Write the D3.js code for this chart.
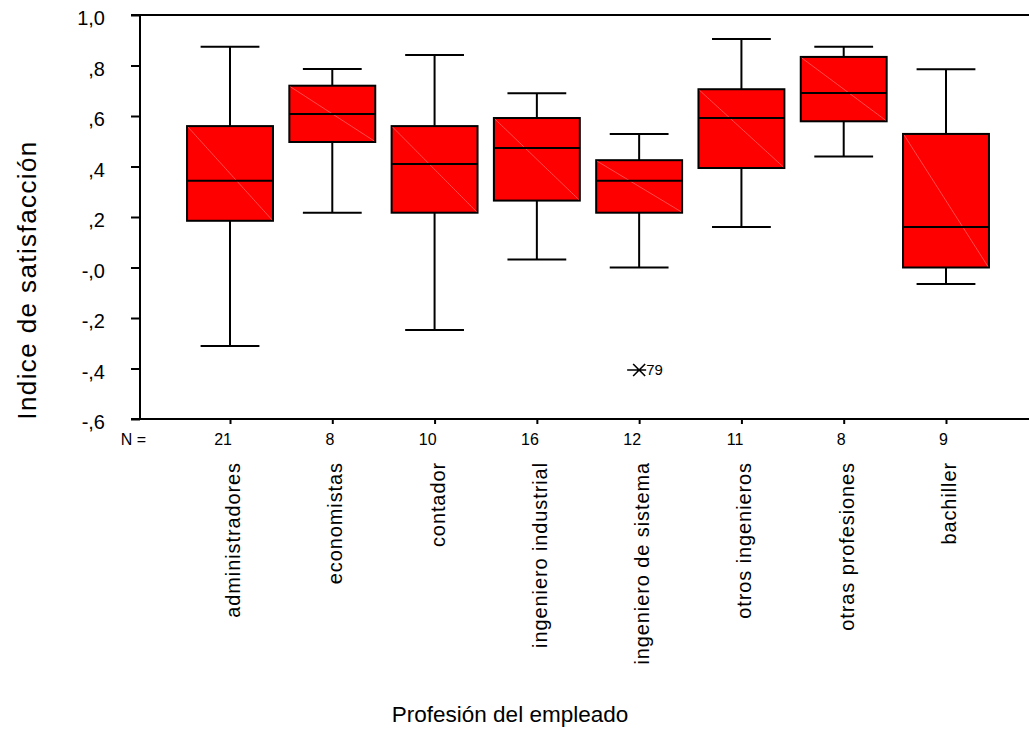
<!DOCTYPE html>
<html>
<head>
<meta charset="utf-8">
<script src="https://cdn.jsdelivr.net/npm/d3@7"></script>
<style>
  html, body { margin: 0; padding: 0; background: #fff; }
  svg { display: block; font-family: "Liberation Sans", Arial, sans-serif; }
</style>
</head>
<body>
<svg id="chart" width="1029" height="736"></svg>
<script>
// Satisfaction index by profession: box plot summaries
const categories = [
  "administradores", "economistas", "contador", "ingeniero industrial",
  "ingeniero de sistema", "otros ingenieros", "otras profesiones", "bachiller"
];
const nCounts     = [21, 8, 10, 16, 12, 11, 8, 9];
const whiskerHigh = [0.874, 0.786, 0.842, 0.690, 0.529, 0.905, 0.874, 0.785];
const q3          = [0.560, 0.720, 0.560, 0.592, 0.425, 0.706, 0.834, 0.529];
const medians     = [0.344, 0.608, 0.410, 0.473, 0.344, 0.592, 0.691, 0.160];
const q1          = [0.185, 0.497, 0.217, 0.265, 0.217, 0.394, 0.579, 0.000];
const whiskerLow  = [-0.311, 0.217, -0.248, 0.032, 0.000, 0.160, 0.440, -0.065];
const outliers    = [{ category: "ingeniero de sistema", value: -0.406, label: "79" }];
const yTickValues = [1.0, 0.8, 0.6, 0.4, 0.2, 0.0, -0.2, -0.4, -0.6];
const yTickLabels = ["1,0", ",8", ",6", ",4", ",2", "-,0", "-,2", "-,4", "-,6"];

const svg = d3.select("#chart");
const plotLeft = 140, plotRight = 1036, plotTop = 15, plotBottom = 419;

const x = d3.scalePoint().domain(categories).range([plotLeft, plotRight]).padding(0.88);
const y = d3.scaleLinear().domain([-0.6, 1.0]).range([plotBottom, plotTop]);
const step = x.step();
const boxW = step * 0.84;
const capW = step * 0.575;

const rows = categories.map((c, i) => ({
  c, n: nCounts[i], hi: whiskerHigh[i], q3: q3[i], med: medians[i], q1: q1[i], lo: whiskerLow[i]
}));

// Frame lines: top border and baseline
svg.append("line").attr("x1", plotLeft - 9).attr("x2", 1029).attr("y1", plotTop).attr("y2", plotTop)
  .attr("stroke", "#000").attr("stroke-width", 2);
svg.append("line").attr("x1", plotLeft - 9).attr("x2", 1029).attr("y1", plotBottom).attr("y2", plotBottom)
  .attr("stroke", "#000").attr("stroke-width", 2);

// Y axis
const yAxis = d3.axisLeft(y).tickValues(yTickValues).tickSize(9)
  .tickFormat((d, i) => yTickLabels[i]);
const yg = svg.append("g").attr("transform", `translate(${plotLeft},0)`).call(yAxis);
yg.select(".domain").attr("stroke", "#000").attr("stroke-width", 2)
  .attr("d", `M0,${plotTop}V${plotBottom}`);
yg.selectAll(".tick line").attr("stroke", "#000").attr("stroke-width", 2);
yg.selectAll(".tick text").attr("x", -35).attr("dy", "0.48em")
  .attr("font-size", 20).attr("fill", "#000")
  .attr("font-family", "'Liberation Sans', Arial, sans-serif");

// X axis ticks with counts
const xAxis = d3.axisBottom(x).tickSize(5).tickFormat((d, i) => nCounts[i]);
const xg = svg.append("g").attr("transform", `translate(0,${plotBottom})`).call(xAxis);
xg.select(".domain").remove();
xg.selectAll(".tick line").attr("stroke", "#000").attr("stroke-width", 2);
xg.selectAll(".tick text").attr("x", 1.5).attr("y", 20).attr("dy", "0.35em")
  .attr("text-anchor", "end")
  .attr("font-size", 16).attr("fill", "#000")
  .attr("font-family", "'Liberation Sans', Arial, sans-serif");

svg.append("text").attr("x", 146).attr("y", plotBottom + 20).attr("dy", "0.35em")
  .attr("text-anchor", "end").attr("font-size", 16).text("N =");

// Category names, rotated
svg.append("g").selectAll("text").data(categories).join("text")
  .attr("transform", d => `translate(${x(d) + 10},462) rotate(-90)`)
  .attr("text-anchor", "end")
  .attr("font-size", 20)
  .attr("letter-spacing", 0.9)
  .text(d => d);

// Boxes
const g = svg.append("g");
const box = g.selectAll("g.box").data(rows).join("g").attr("class", "box");

// whiskers
box.append("line").attr("x1", d => x(d.c)).attr("x2", d => x(d.c))
  .attr("y1", d => y(d.hi)).attr("y2", d => y(d.q3))
  .attr("stroke", "#000").attr("stroke-width", 2);
box.append("line").attr("x1", d => x(d.c)).attr("x2", d => x(d.c))
  .attr("y1", d => y(d.q1)).attr("y2", d => y(d.lo))
  .attr("stroke", "#000").attr("stroke-width", 2);
box.append("line").attr("x1", d => x(d.c) - capW / 2).attr("x2", d => x(d.c) + capW / 2)
  .attr("y1", d => y(d.hi)).attr("y2", d => y(d.hi))
  .attr("stroke", "#000").attr("stroke-width", 2);
box.append("line").attr("x1", d => x(d.c) - capW / 2).attr("x2", d => x(d.c) + capW / 2)
  .attr("y1", d => y(d.lo)).attr("y2", d => y(d.lo))
  .attr("stroke", "#000").attr("stroke-width", 2);

// box body
box.append("rect")
  .attr("x", d => x(d.c) - boxW / 2).attr("width", boxW)
  .attr("y", d => y(d.q3)).attr("height", d => y(d.q1) - y(d.q3))
  .attr("fill", "#ff0000").attr("stroke", "#000").attr("stroke-width", 2);

// faint diagonal across each box
box.append("line")
  .attr("x1", d => x(d.c) - boxW / 2 + 1).attr("y1", d => y(d.q3) + 1)
  .attr("x2", d => x(d.c) + boxW / 2 - 1).attr("y2", d => y(d.q1) - 1)
  .attr("stroke", "#ff6a6a").attr("stroke-width", 0.7);

// median
box.append("line").attr("x1", d => x(d.c) - boxW / 2).attr("x2", d => x(d.c) + boxW / 2)
  .attr("y1", d => y(d.med)).attr("y2", d => y(d.med))
  .attr("stroke", "#000").attr("stroke-width", 2);

// Outliers: starred marker with case label
const out = g.selectAll("g.out").data(outliers).join("g").attr("class", "out")
  .attr("transform", d => `translate(${x(d.category)},${y(d.value)})`);
out.append("path").attr("d", "M-12,0H7M-6,-6L6,6M-6,6L6,-6")
  .attr("stroke", "#000").attr("stroke-width", 1.6).attr("fill", "none");
out.append("text").attr("x", 7).attr("dy", "0.35em").attr("font-size", 15)
  .text(d => d.label);

// Axis titles
svg.append("text").attr("transform", `translate(36,280) rotate(-90)`)
  .attr("text-anchor", "middle").attr("font-size", 26).attr("letter-spacing", 1.4)
  .text("Indice de satisfacción");
svg.append("text").attr("x", 510).attr("y", 722)
  .attr("text-anchor", "middle").attr("font-size", 22.5)
  .text("Profesión del empleado");
</script>
</body>
</html>
